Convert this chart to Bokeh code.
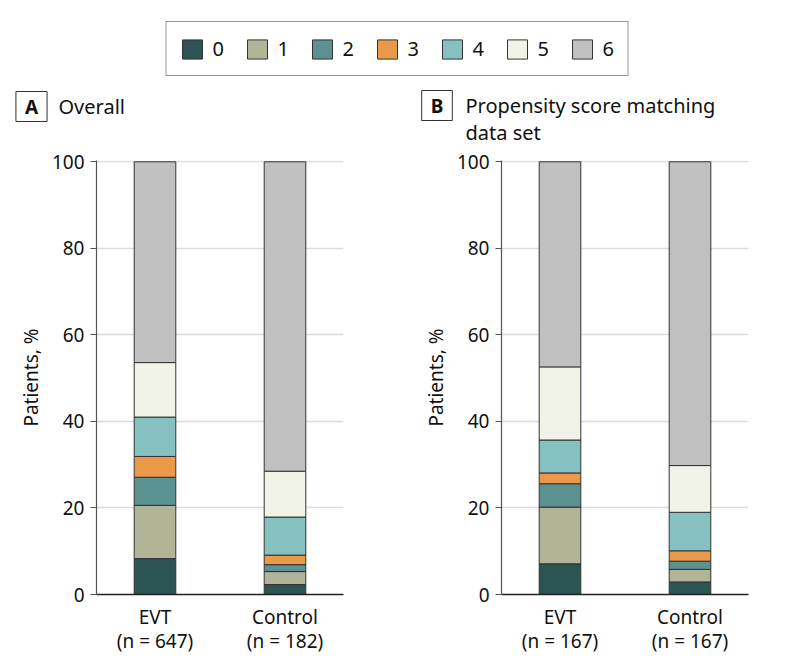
from bokeh.plotting import figure
from bokeh.models import (Range1d, FixedTicker, Label, Legend, LegendItem,
                          ColumnDataSource)
from bokeh.layouts import column, row
from bokeh.embed import file_html
from bokeh.resources import INLINE

# ---------------- data ----------------
categories = ["EVT", "Control"]
n_overall = [647, 182]
n_psm = [167, 167]
scores = ["0", "1", "2", "3", "4", "5", "6"]
overall_evt = [8.3, 12.3, 6.5, 4.8, 9.1, 12.6, 46.4]
overall_control = [2.3, 3.0, 1.6, 2.2, 8.8, 10.6, 71.5]
psm_evt = [7.1, 13.1, 5.4, 2.5, 7.6, 16.9, 47.4]
psm_control = [2.9, 2.9, 1.9, 2.4, 8.9, 10.8, 70.2]
y_ticks = [0, 20, 40, 60, 80, 100]
colors = ["#2b5452", "#b1b497", "#5b9190", "#e8994a", "#85c1c0", "#f1f2e8", "#c0c0c0"]

FONT = "Noto Sans"
FRAME_W, FRAME_H = 247, 434
TOTAL_W = 794
HEADER_H = 146


def make_panel(evt, ctrl, ns, left_border, right_border):
    keys = ["s" + s for s in scores]
    data = {"x": list(range(len(categories)))}
    for k, a, b in zip(keys, evt, ctrl):
        data[k] = [a, b]
    src = ColumnDataSource(data)
    p = figure(frame_width=FRAME_W, frame_height=FRAME_H,
               x_range=Range1d(-0.45, 1.45), y_range=Range1d(0, 100.3),
               output_backend="svg", toolbar_location=None, title=None,
               min_border_left=left_border, min_border_right=right_border,
               min_border_top=14, min_border_bottom=62)
    p.vbar_stack(keys, x="x", width=0.32, source=src, fill_color=colors,
                 line_color="#333333", line_width=1)
    p.outline_line_color = None
    p.xgrid.visible = False
    p.ygrid.grid_line_color = "#dcdcdc"
    p.ygrid.grid_line_width = 1.5
    p.ygrid.ticker = FixedTicker(ticks=y_ticks)

    ya = p.yaxis[0]
    ya.ticker = FixedTicker(ticks=y_ticks)
    ya.axis_label = "Patients, %"
    ya.axis_label_text_font = FONT
    ya.axis_label_text_font_size = "19px"
    ya.axis_label_text_font_style = "normal"
    ya.axis_label_text_color = "#111111"
    ya.axis_label_standoff = 5
    ya.major_label_text_font = FONT
    ya.major_label_text_font_size = "19px"
    ya.major_label_text_color = "#111111"
    ya.major_label_standoff = 6
    ya.major_tick_out = 6
    ya.major_tick_in = 0
    ya.minor_tick_out = 0
    ya.minor_tick_in = 0
    ya.axis_line_color = "#555555"
    ya.major_tick_line_color = "#555555"
    ya.axis_line_width = 1.2

    xa = p.xaxis[0]
    xa.ticker = FixedTicker(ticks=list(range(len(categories))))
    xa.major_label_overrides = {i: f"{c}\n(n = {n})" for i, (c, n) in enumerate(zip(categories, ns))}
    xa.major_label_text_font = FONT
    xa.major_label_text_font_size = "19px"
    xa.major_label_text_color = "#111111"
    xa.major_label_text_line_height = 0.95
    xa.major_label_standoff = 9
    xa.major_tick_out = 0
    xa.major_tick_in = 0
    xa.minor_tick_out = 0
    xa.minor_tick_in = 0
    xa.axis_line_color = "#222222"
    xa.axis_line_width = 1.5
    return p


pA = make_panel(overall_evt, overall_control, n_overall, 96, 70)
pB = make_panel(psm_evt, psm_control, n_psm, 88, 46)

# ---------------- header figure: legend + panel titles ----------------
hf = figure(width=TOTAL_W, height=HEADER_H, x_range=Range1d(0, 1), y_range=Range1d(0, 1),
            output_backend="svg", toolbar_location=None, title=None,
            x_axis_location=None, y_axis_location=None, min_border=0)
hf.grid.visible = False
hf.outline_line_color = None
items = []
for s, c in zip(scores, colors):
    # degenerate placeholder renderer (draws nothing) that supplies the legend swatch
    r = hf.vbar(x=[0.5], top=[-2], bottom=[-2], width=0, fill_color=c,
                line_color="#333333", line_width=1)
    items.append(LegendItem(label=s, renderers=[r]))
leg = Legend(items=items, orientation="horizontal", location="top_center",
             glyph_width=25, glyph_height=24, label_standoff=8, label_width=12,
             spacing=20, padding=13, margin=21, border_line_color="#333333",
             border_line_width=1.2, label_text_font=FONT, label_text_font_size="20px",
             label_text_color="#111111")
hf.add_layout(leg)


def panel_heading(fig, letter, title, box_x, title_x, y, title_y):
    fig.add_layout(Label(x=box_x, y=y, x_units="screen", y_units="screen",
                         text=letter, text_font=FONT, text_font_size="19px",
                         text_font_style="bold", text_align="center",
                         text_baseline="middle", text_color="#111111",
                         border_line_color="#333333", border_line_width=1,
                         background_fill_color="white", padding=(9, 2)))
    fig.add_layout(Label(x=title_x, y=title_y, x_units="screen", y_units="screen",
                         text=title, text_font=FONT, text_font_size="20px",
                         text_align="left", text_baseline="middle",
                         text_line_height=1.0, text_color="#111111"))


panel_heading(hf, "A", "Overall", 31, 58, 40, 40)
panel_heading(hf, "B", "Propensity score matching\ndata set", 436.5, 465, 41, 27.5)

layout = column(hf, row(pA, pB))
open("out.html", "w").write(file_html(layout, INLINE))
